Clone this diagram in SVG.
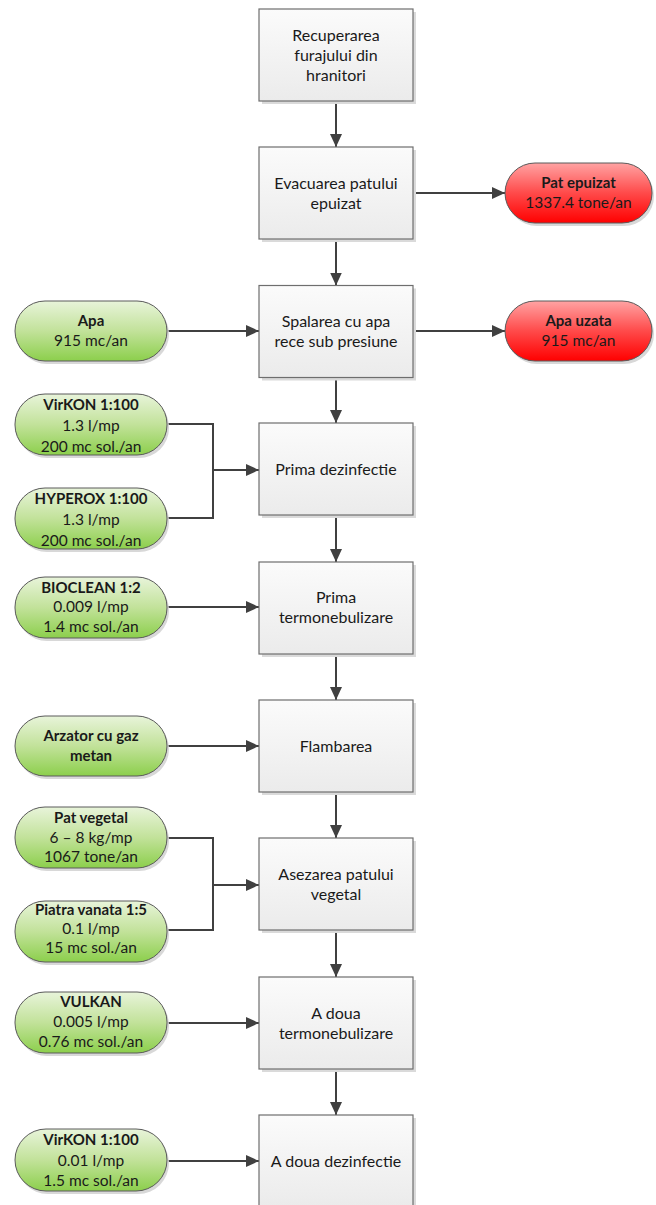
<svg xmlns="http://www.w3.org/2000/svg" width="656" height="1205" viewBox="0 0 656 1205">
<defs>
<linearGradient id="gBox" x1="0" y1="0" x2="0" y2="1"><stop offset="0" stop-color="#fbfbfb"/><stop offset="1" stop-color="#ebebeb"/></linearGradient>
<linearGradient id="gGreen" x1="0" y1="0" x2="0" y2="1"><stop offset="0" stop-color="#e8f4da"/><stop offset="0.5" stop-color="#c2e29a"/><stop offset="1" stop-color="#8ccf4c"/></linearGradient>
<linearGradient id="gRed" x1="0" y1="0" x2="0" y2="1"><stop offset="0" stop-color="#ffa3a3"/><stop offset="0.5" stop-color="#ff4a4a"/><stop offset="1" stop-color="#ff0000"/></linearGradient>
<marker id="arr" viewBox="0 0 13 12" refX="13" refY="6" markerWidth="13" markerHeight="12" markerUnits="userSpaceOnUse" orient="auto"><path d="M0,0 L13,6 L0,12 z" fill="#404040"/></marker>
</defs>
<style>
.box{fill:url(#gBox);stroke:#6e6e6e;stroke-width:1.2}
.sh{fill:#dadada}
.green{fill:url(#gGreen);stroke:#5a5a5a;stroke-width:1}
.red{fill:url(#gRed);stroke:#5a5a5a;stroke-width:1}
.psh{fill:#d8d8d8}
text{font-family:Lato,"Open Sans","Liberation Sans",sans-serif;font-size:15.5px;fill:#1a1a1a;text-anchor:middle}
.t{font-size:16px}
.b{font-weight:bold;font-size:15px}
.c{fill:none;stroke:#404040;stroke-width:2}
.a{marker-end:url(#arr)}
</style>
<g id="connectors">
<line class="c a" x1="336" y1="101" x2="336" y2="147"/>
<line class="c a" x1="336" y1="239" x2="336" y2="285.5"/>
<line class="c a" x1="336" y1="377" x2="336" y2="423"/>
<line class="c a" x1="336" y1="515" x2="336" y2="562"/>
<line class="c a" x1="336" y1="653" x2="336" y2="700"/>
<line class="c a" x1="336" y1="792" x2="336" y2="838"/>
<line class="c a" x1="336" y1="930" x2="336" y2="977"/>
<line class="c a" x1="336" y1="1069" x2="336" y2="1115"/>
<line class="c a" x1="413" y1="193" x2="505" y2="193"/>
<line class="c a" x1="413" y1="331" x2="505" y2="331"/>
<line class="c a" x1="167" y1="331" x2="259" y2="331"/>
<polyline class="c" points="167,424 213,424 213,518 167,518"/>
<line class="c a" x1="213" y1="470" x2="259" y2="470"/>
<line class="c a" x1="167" y1="607" x2="259" y2="607"/>
<line class="c a" x1="167" y1="746" x2="259" y2="746"/>
<polyline class="c" points="167,838 213,838 213,930 167,930"/>
<line class="c a" x1="213" y1="885" x2="259" y2="885"/>
<line class="c a" x1="167" y1="1023" x2="259" y2="1023"/>
<line class="c a" x1="167" y1="1161" x2="259" y2="1161"/>
</g>
<g id="n1"><rect class="sh" x="262" y="12" width="154" height="92"/><rect class="box" x="259" y="9" width="154" height="92"/><text class="t" x="336" y="41">Recuperarea</text><text class="t" x="336" y="61">furajului din</text><text class="t" x="336" y="81">hranitori</text></g>
<g id="n2"><rect class="sh" x="262" y="150" width="154" height="92"/><rect class="box" x="259" y="147" width="154" height="92"/><text class="t" x="336" y="189">Evacuarea patului</text><text class="t" x="336" y="209">epuizat</text></g>
<g id="n3"><rect class="sh" x="262" y="288.5" width="154" height="92"/><rect class="box" x="259" y="285.5" width="154" height="92"/><text class="t" x="336" y="327">Spalarea cu apa</text><text class="t" x="336" y="347">rece sub presiune</text></g>
<g id="n4"><rect class="sh" x="262" y="426" width="154" height="92"/><rect class="box" x="259" y="423" width="154" height="92"/><text class="t" x="336" y="475">Prima dezinfectie</text></g>
<g id="n5"><rect class="sh" x="262" y="565" width="154" height="92"/><rect class="box" x="259" y="562" width="154" height="92"/><text class="t" x="336" y="603">Prima</text><text class="t" x="336" y="623">termonebulizare</text></g>
<g id="n6"><rect class="sh" x="262" y="703" width="154" height="92"/><rect class="box" x="259" y="700" width="154" height="92"/><text class="t" x="336" y="752">Flambarea</text></g>
<g id="n7"><rect class="sh" x="262" y="841" width="154" height="92"/><rect class="box" x="259" y="838" width="154" height="92"/><text class="t" x="336" y="880">Asezarea patului</text><text class="t" x="336" y="900">vegetal</text></g>
<g id="n8"><rect class="sh" x="262" y="980" width="154" height="92"/><rect class="box" x="259" y="977" width="154" height="92"/><text class="t" x="336" y="1019">A doua</text><text class="t" x="336" y="1039">termonebulizare</text></g>
<g id="n9"><rect class="sh" x="262" y="1118" width="154" height="92"/><rect class="box" x="259" y="1115" width="154" height="92"/><text class="t" x="336" y="1167">A doua dezinfectie</text></g>
<g id="r1"><rect class="psh" x="507" y="166" width="147" height="60" rx="30"/><rect class="red" x="505" y="163" width="147" height="60" rx="30"/><text class="b" x="578.5" y="188">Pat epuizat</text><text x="578.5" y="208">1337.4 tone/an</text></g>
<g id="r2"><rect class="psh" x="507" y="304" width="147" height="60" rx="30"/><rect class="red" x="505" y="301" width="147" height="60" rx="30"/><text class="b" x="578.5" y="326">Apa uzata</text><text x="578.5" y="346">915 mc/an</text></g>
<g id="g1"><rect class="psh" x="17" y="304" width="152" height="60" rx="30"/><rect class="green" x="15" y="301" width="152" height="60" rx="30"/><text class="b" x="91" y="326">Apa</text><text x="91" y="346">915 mc/an</text></g>
<g id="g2"><rect class="psh" x="17" y="397" width="152" height="61" rx="30"/><rect class="green" x="15" y="394" width="152" height="61" rx="30"/><text class="b" x="91" y="410">VirKON 1:100</text><text x="91" y="431">1.3 l/mp</text><text x="91" y="452">200 mc sol./an</text></g>
<g id="g3"><rect class="psh" x="17" y="491" width="152" height="61" rx="30"/><rect class="green" x="15" y="488" width="152" height="61" rx="30"/><text class="b" x="91" y="504">HYPEROX 1:100</text><text x="91" y="525">1.3 l/mp</text><text x="91" y="546">200 mc sol./an</text></g>
<g id="g4"><rect class="psh" x="17" y="580" width="152" height="61" rx="30"/><rect class="green" x="15" y="577" width="152" height="61" rx="30"/><text class="b" x="91" y="593">BIOCLEAN 1:2</text><text x="91" y="612">0.009 l/mp</text><text x="91" y="632">1.4 mc sol./an</text></g>
<g id="g5"><rect class="psh" x="17" y="719" width="152" height="60" rx="30"/><rect class="green" x="15" y="716" width="152" height="60" rx="30"/><text class="b" x="91" y="741">Arzator cu gaz</text><text class="b" x="91" y="761">metan</text></g>
<g id="g6"><rect class="psh" x="17" y="810" width="152" height="61" rx="30"/><rect class="green" x="15" y="807" width="152" height="61" rx="30"/><text class="b" x="91" y="823">Pat vegetal</text><text x="91" y="843">6 – 8 kg/mp</text><text x="91" y="862">1067 tone/an</text></g>
<g id="g7"><rect class="psh" x="17" y="904" width="152" height="61" rx="30"/><rect class="green" x="15" y="901" width="152" height="61" rx="30"/><text class="b" x="91" y="915">Piatra vanata 1:5</text><text x="91" y="934">0.1 l/mp</text><text x="91" y="953">15 mc sol./an</text></g>
<g id="g8"><rect class="psh" x="17" y="995" width="152" height="61" rx="30"/><rect class="green" x="15" y="992" width="152" height="61" rx="30"/><text class="b" x="91" y="1007">VULKAN</text><text x="91" y="1027">0.005 l/mp</text><text x="91" y="1047">0.76 mc sol./an</text></g>
<g id="g9"><rect class="psh" x="17" y="1132" width="152" height="62" rx="31"/><rect class="green" x="15" y="1129" width="152" height="62" rx="31"/><text class="b" x="91" y="1145">VirKON 1:100</text><text x="91" y="1166">0.01 l/mp</text><text x="91" y="1186">1.5 mc sol./an</text></g>
</svg>
